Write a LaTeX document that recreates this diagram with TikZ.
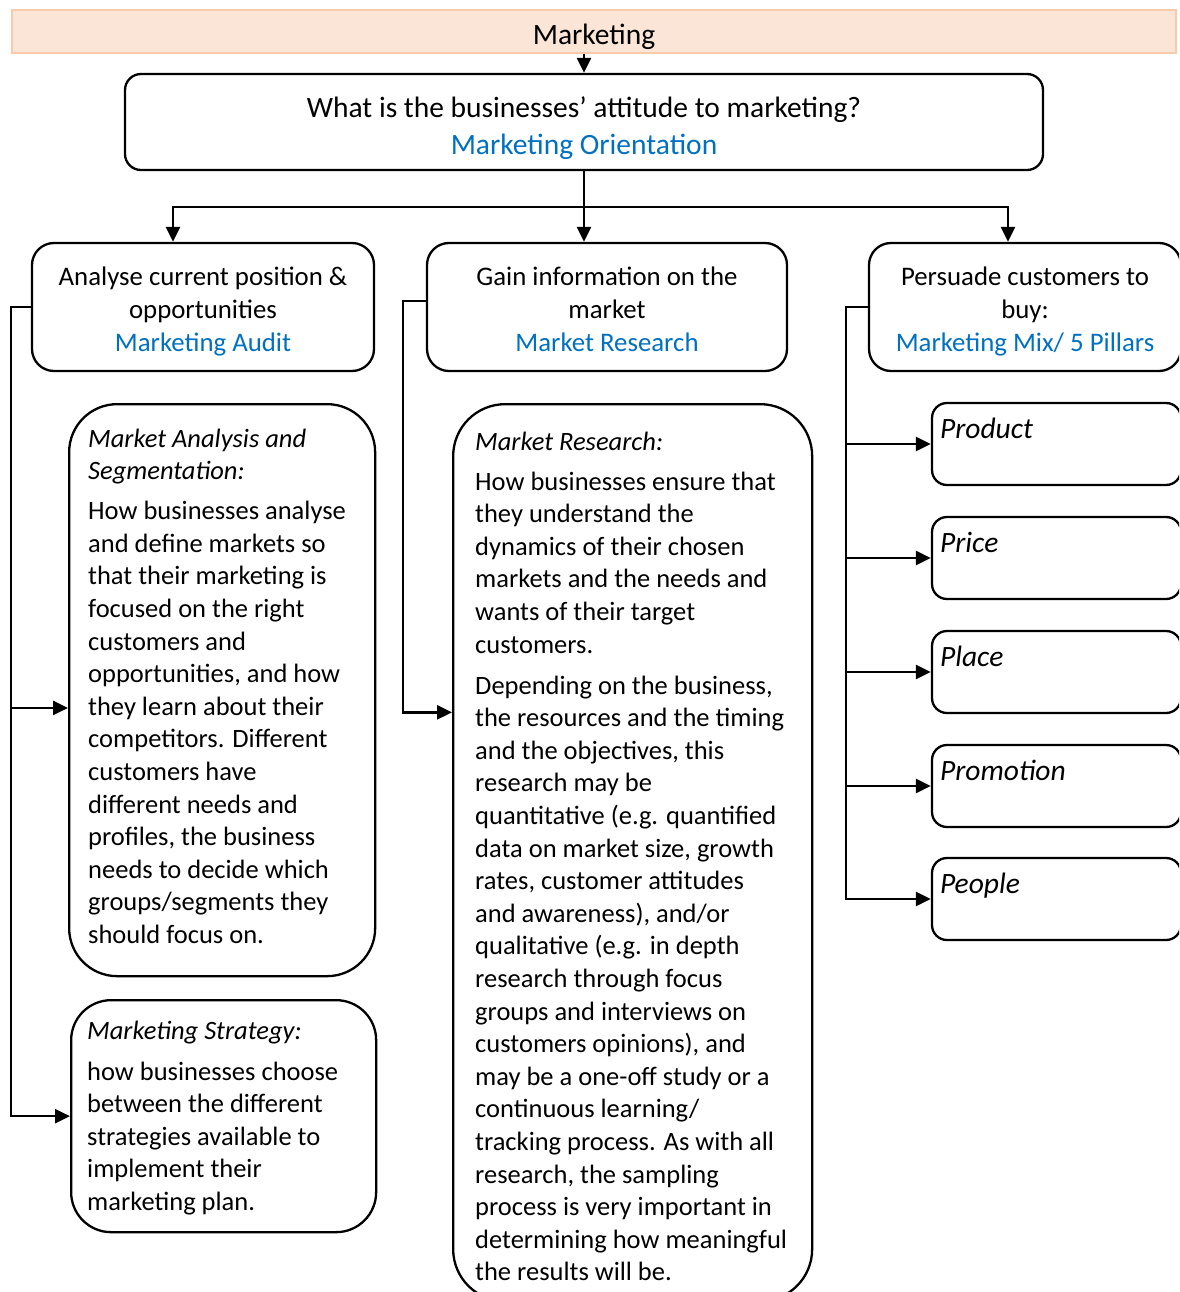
\documentclass[tikz,border=0pt]{standalone}
\usepackage{fontspec}
\setmainfont{Carlito}
\usetikzlibrary{arrows.meta,calc}
\definecolor{linkblue}{HTML}{0070C0}
\definecolor{bannerfill}{HTML}{FBE5D6}
\definecolor{bannerline}{HTML}{F8CBAD}
\newcommand{\headroom}[1]{\rule{0pt}{#1}}
\tikzset{
  every node/.style={font=\fontsize{26.5}{32.6}\selectfont},
  bigfont/.style={font=\fontsize{29.5}{36.5}\selectfont},
  banner/.style={draw=bannerline, fill=bannerfill, line width=1.5pt, minimum width=1164pt, minimum height=39pt, bigfont},
  topbox/.style={draw, line width=2.3pt, rounded corners=16pt, align=center, minimum width=918pt, minimum height=96pt, bigfont},
  headbox/.style={draw, line width=2.3pt, rounded corners=22pt, align=center, minimum height=128pt, font=\fontsize{26.8}{32.8}\selectfont},
  panel/.style={draw, line width=2.3pt, minimum width=#1},
  pillar/.style={draw, line width=2.3pt, rounded corners=15pt, minimum width=249pt, minimum height=82pt},
  bodytext/.style={anchor=north west, align=left, inner sep=0pt},
  link/.style={draw, line width=2.5pt, -{Triangle[length=15pt,width=14pt]}},
  trunk/.style={draw, line width=2.5pt}
}
\begin{document}
\begin{tikzpicture}[x=1pt,y=-1pt]
  \useasboundingbox (0,0) rectangle (1179,1292);
  \clip (0,0) rectangle (1179,1292);

  % top of the chart
  \node[banner] (marketing) at (594,31.5) {\headroom{31pt}Marketing};
  \node[topbox] (orientation) at (584,122)
    {\headroom{33pt}What is the businesses’ attitude to marketing?\\
     \textcolor{linkblue}{Marketing Orientation}};

  % the three questions
  \node[headbox, minimum width=342pt] (audit) at (203,307)
    {\headroom{33pt}Analyse current position \&\\ opportunities\\ \textcolor{linkblue}{Marketing Audit}\strut};
  \node[headbox, minimum width=360pt] (gain) at (607,307)
    {\headroom{33pt}Gain information on the\\ market\\ \textcolor{linkblue}{Market Research}\strut};
  \node[headbox, minimum width=312pt] (persuade) at (1025,307)
    {\headroom{33pt}Persuade customers to\\ buy:\\ \textcolor{linkblue}{Marketing Mix/ 5 Pillars}\strut};

  % detail panels
  \node[panel=306pt, minimum height=572pt, rounded corners=48pt, anchor=north west] (analysis) at (68,403) {};
  \node[bodytext] (analysis-text) at ([shift={(20,21)}]analysis.north west)
    {\strut\textit{Market Analysis and}\\
     \textit{Segmentation:}\\[7.4pt]
     How businesses analyse\\
     and define markets so\\
     that their marketing is\\
     focused on the right\\
     customers and\\
     opportunities, and how\\
     they learn about their\\
     competitors. Different\\
     customers have\\
     different needs and\\
     profiles, the business\\
     needs to decide which\\
     groups/segments they\\
     should focus on.};

  \node[panel=305pt, minimum height=232pt, rounded corners=40pt, anchor=north west] (strategy) at (70,999) {};
  \node[bodytext] (strategy-text) at ([shift={(17,17)}]strategy.north west)
    {\strut\textit{Marketing Strategy:}\\[8.4pt]
     how businesses choose\\
     between the different\\
     strategies available to\\
     implement their\\
     marketing plan.};

  \node[panel=359pt, minimum height=897pt, rounded corners=52pt, anchor=north west] (research) at (452,403) {};
  \node[bodytext] (research-text) at ([shift={(23,24)}]research.north west)
    {\strut\textit{Market Research:}\\[7.4pt]
     How businesses ensure that\\
     they understand the\\
     dynamics of their chosen\\
     markets and the needs and\\
     wants of their target\\
     customers.\\[8.4pt]
     Depending on the business,\\
     the resources and the timing\\
     and the objectives, this\\
     research may be\\
     quantitative (e.g. quantified\\
     data on market size, growth\\
     rates, customer attitudes\\
     and awareness), and/or\\
     qualitative (e.g. in depth\\
     research through focus\\
     groups and interviews on\\
     customers opinions), and\\
     may be a one-off study or a\\
     continuous learning/\\
     tracking process. As with all\\
     research, the sampling\\
     process is very important in\\
     determining how meaningful\\
     the results will be.};

  % the five pillars
  \foreach \name/\word/\y in {product/Product/444, price/Price/558, place/Place/672,
                              promotion/Promotion/786, people/People/899} {
    \node[pillar] (\name) at (1056.5,\y) {};
    \node[bodytext] (\name-text) at ([shift={(9,14)}]\name.north west)
      {\strut\fontsize{29.5}{32.6}\selectfont\textit{\word}};
  }

  % connectors
  \draw[link] (marketing.south -| orientation.north) -- (orientation.north);
  \draw[link] (orientation.south) -- (orientation.south |- gain.north);
  \draw[link] (orientation.south) -- ++(0,36) -| ([xshift=-30pt]audit.north);
  \draw[link] (orientation.south) -- ++(0,36) -| ([xshift=-17pt]persuade.north);

  \draw[link] (audit.west) -- ++(-20,0) |- ($(analysis.north west)!0.531!(analysis.south west)$);
  \draw[link] (audit.west) -- ++(-20,0) |- (strategy.west);

  \draw[link] ([yshift=6pt]gain.west) -- ++(-23,0) |- ($(research.north west)!0.344!(research.south west)$);

  \foreach \name in {product, price, place, promotion, people}
    \draw[link] (persuade.west) -- ++(-22,0) |- (\name.west);
\end{tikzpicture}
\end{document}
